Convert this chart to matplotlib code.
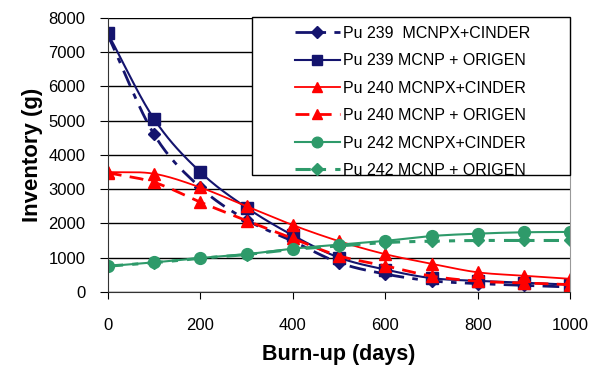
import numpy as np
import matplotlib
matplotlib.use("Agg")
import matplotlib.pyplot as plt
from matplotlib.patches import Rectangle

plt.rcParams['font.family'] = ['Liberation Sans', 'DejaVu Sans']

days = [0, 100, 200, 300, 400, 500, 600, 700, 800, 900, 1000]

pu239_cinder = [7500, 4600, 3050, 2100, 1480, 850, 520, 320, 240, 190, 140]
pu239_origen = [7550, 5050, 3500, 2460, 1650, 1000, 650, 400, 320, 270, 210]
pu240_cinder = [3500, 3450, 3050, 2500, 1950, 1480, 1100, 820, 570, 470, 380]
pu240_origen = [3480, 3200, 2620, 2080, 1560, 1050, 760, 460, 310, 260, 210]
pu242_cinder = [750, 860, 990, 1100, 1260, 1380, 1490, 1630, 1700, 1740, 1750]
pu242_origen = [750, 850, 980, 1090, 1240, 1340, 1440, 1480, 1500, 1500, 1500]

labels = ["Pu 239  MCNPX+CINDER", "Pu 239 MCNP + ORIGEN",
          "Pu 240 MCNPX+CINDER", "Pu 240 MCNP + ORIGEN",
          "Pu 242 MCNPX+CINDER", "Pu 242 MCNP + ORIGEN"]

navy = '#14146e'
red = '#ff0000'
green = '#2e9a6a'


def smooth(x, y, n=20):
    # Catmull-Rom curve through the points, like Excel's smoothed line
    x = np.asarray(x, float)
    y = np.asarray(y, float)
    px = np.concatenate([[2 * x[0] - x[1]], x, [2 * x[-1] - x[-2]]])
    py = np.concatenate([[2 * y[0] - y[1]], y, [2 * y[-1] - y[-2]]])
    xs, ys = [], []
    t = np.linspace(0, 1, n, endpoint=False)
    for i in range(1, len(px) - 2):
        for p, out in ((px, xs), (py, ys)):
            p0, p1, p2, p3 = p[i - 1], p[i], p[i + 1], p[i + 2]
            out.extend(0.5 * (2 * p1 + (-p0 + p2) * t
                              + (2 * p0 - 5 * p1 + 4 * p2 - p3) * t ** 2
                              + (-p0 + 3 * p1 - 3 * p2 + p3) * t ** 3))
    xs.append(x[-1])
    ys.append(y[-1])
    return xs, ys


fig = plt.figure(figsize=(5.99, 3.68), dpi=100)
ax = fig.add_axes([0.180, 0.207, 0.772, 0.744])

series = [
    (pu239_cinder, navy, (0, (6, 3, 2, 3)), 'D', 6.5, 2.0),
    (pu239_origen, navy, '-', 's', 8.5, 1.5),
    (pu240_cinder, red, '-', '^', 8.5, 1.3),
    (pu240_origen, red, (0, (5, 3)), '^', 8.5, 2.0),
    (pu242_cinder, green, '-', 'o', 8.5, 1.5),
    (pu242_origen, green, (0, (5, 3, 2, 3)), 'D', 6.5, 2.2),
]

handles = []
for (vals, col, ls, mk, ms, lw), lab in zip(series, labels):
    sx, sy = smooth(days, vals)
    ax.plot(sx, sy, color=col, linestyle=ls, linewidth=lw)
    ax.plot(days, vals, linestyle='none', marker=mk, markersize=ms,
            color=col)
    h, = ax.plot([], [], color=col, linestyle=ls, linewidth=lw,
                 marker=mk, markersize=ms * 0.9, label=lab)
    handles.append(h)

ax.set_xlim(0, 1000)
ax.set_ylim(0, 8000)
ax.set_xticks(range(0, 1001, 200))
ax.set_yticks(range(0, 8001, 1000))
ax.grid(axis='y', color='black', linewidth=1.0)
ax.set_axisbelow(True)
ax.tick_params(axis='x', direction='out', length=5, pad=14, labelsize=12)
ax.tick_params(axis='y', direction='out', length=6, pad=10, labelsize=12)
for s in ['left', 'bottom']:
    ax.spines[s].set_color('#333333')
ax.spines['right'].set_color('#999999')
ax.spines['top'].set_visible(False)

ax.set_xlabel('Burn-up (days)', fontsize=15.5, fontweight='bold', labelpad=8)
ax.set_ylabel('Inventory (g)', fontsize=16, fontweight='bold', labelpad=4)

# legend box, drawn separately so the entries can sit centred in it
box = Rectangle((0.312, 0.425), 0.688, 0.579, transform=ax.transAxes,
                facecolor='white', edgecolor='black', linewidth=1.0,
                clip_on=False, zorder=4.5)
ax.add_patch(box)
leg = ax.legend(handles=handles, loc='upper left', fontsize=11.5,
                frameon=False, borderpad=0, borderaxespad=0,
                labelspacing=0.78, handlelength=2.8, handletextpad=0.2,
                bbox_to_anchor=(0.405, 0.972))
leg.set_zorder(5)

fig.savefig('out.png', dpi=100)
